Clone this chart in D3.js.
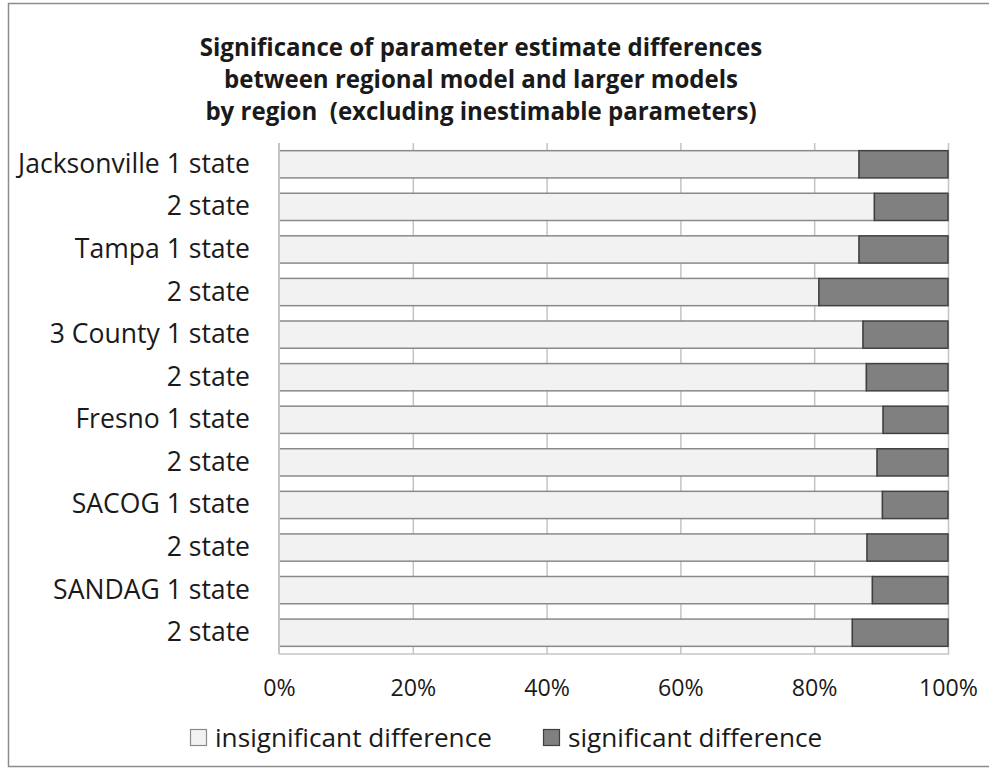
<!DOCTYPE html>
<html>
<head>
<meta charset="utf-8">
<script src="https://cdn.jsdelivr.net/npm/d3@7/dist/d3.min.js"></script>
<style>
  html, body { margin: 0; padding: 0; background: #fff; }
  svg { display: block; }
  text { font-family: "Open Sans", sans-serif; fill: #1a1a1a; white-space: pre; }
</style>
</head>
<body>
<svg id="chart" width="989" height="768"></svg>
<script>
// Rows, top to bottom
const categories = [
  "Jacksonville 1 state", "2 state",
  "Tampa 1 state", "2 state",
  "3 County 1 state", "2 state",
  "Fresno 1 state", "2 state",
  "SACOG 1 state", "2 state",
  "SANDAG 1 state", "2 state"
];
// Share of parameters whose difference is not significant
const insignificant = [0.867, 0.890, 0.867, 0.807, 0.873, 0.878, 0.903, 0.894, 0.902, 0.879, 0.887, 0.857];
// Share of parameters whose difference is significant
const significant = insignificant.map(v => 1 - v);
const seriesNames = ["insignificant difference", "significant difference"];
const xTicks = [0, 0.2, 0.4, 0.6, 0.8, 1.0];
const titleLines = [
  "Significance of parameter estimate differences",
  "between regional model and larger models",
  "by region  (excluding inestimable parameters)"
];

const fills = ["#f2f2f2", "#808080"];
const strokes = ["#8a8a8a", "#404040"];

const svg = d3.select("#chart");

// Pick a font size so that `str` renders `width` px wide.
function fitSize(str, width, weight) {
  const t = svg.append("text").attr("font-size", 100)
    .attr("font-weight", weight || "normal").text(str);
  const w = t.node().getComputedTextLength();
  t.remove();
  return 100 * width / w;
}
const labelSize = fitSize("Jacksonville 1 state", 232);
const tickSize = fitSize("100%", 59);
const legendSize = fitSize("insignificant difference", 277);
const titleSize = fitSize(titleLines[0], 563, "bold");

// outer frame
svg.append("rect")
  .attr("x", 8.5).attr("y", 3.5).attr("width", 990).attr("height", 763)
  .attr("fill", "none").attr("stroke", "#8c8c8c").attr("stroke-width", 1.5);

const plot = { left: 279, right: 948, top: 143, bottom: 654 };

const x = d3.scaleLinear().domain([0, 1]).range([plot.left, plot.right]);
const y = d3.scaleBand().domain(d3.range(categories.length))
  .range([plot.top, plot.bottom]).paddingInner(0.36).paddingOuter(0.18);

// vertical gridlines
svg.append("g").selectAll("line").data(xTicks.slice(1)).join("line")
  .attr("x1", d => x(d) + 0.5).attr("x2", d => x(d) + 0.5)
  .attr("y1", plot.top).attr("y2", plot.bottom)
  .attr("stroke", "#c4c4c4").attr("stroke-width", 1.5);

// stacked bars
const rows = categories.map((c, i) => ({ i, vals: [insignificant[i], significant[i]] }));
const stack = d3.stack().keys([0, 1]).value((d, k) => d.vals[k]);
const layers = stack(rows);

svg.append("g").selectAll("g").data(layers).join("g")
  .attr("fill", (d, k) => fills[k])
  .attr("stroke", (d, k) => strokes[k])
  .attr("stroke-width", 1.5)
  .selectAll("rect").data(d => d).join("rect")
  .attr("x", d => x(d[0]))
  .attr("width", d => x(d[1]) - x(d[0]))
  .attr("y", d => y(d.data.i))
  .attr("height", y.bandwidth());

// axis lines
svg.append("line")
  .attr("x1", plot.left).attr("x2", plot.left)
  .attr("y1", plot.top).attr("y2", plot.bottom)
  .attr("stroke", "#c4c4c4").attr("stroke-width", 2);
svg.append("line")
  .attr("x1", plot.left).attr("x2", plot.right + 1)
  .attr("y1", plot.bottom).attr("y2", plot.bottom)
  .attr("stroke", "#c4c4c4").attr("stroke-width", 1.5);

// category labels
const yAxis = d3.axisLeft(y).tickSize(0).tickPadding(29).tickFormat(i => categories[i]);
const gy = svg.append("g").attr("transform", `translate(${plot.left},0)`).call(yAxis);
gy.select(".domain").remove();
gy.selectAll("text").attr("font-size", labelSize)
  .style("font-family", "'Open Sans', sans-serif").attr("fill", "#1a1a1a");

// percentage labels
const xAxis = d3.axisBottom(x).tickValues(xTicks).tickSize(0).tickPadding(26).tickFormat(d3.format(".0%"));
const gx = svg.append("g").attr("transform", `translate(0,${plot.bottom})`).call(xAxis);
gx.select(".domain").remove();
gx.selectAll("text").attr("font-size", tickSize)
  .style("font-family", "'Open Sans', sans-serif").attr("fill", "#1a1a1a");

// title
svg.append("g").selectAll("text").data(titleLines).join("text")
  .attr("x", 481).attr("y", (d, i) => 56 + i * 32)
  .attr("text-anchor", "middle")
  .attr("font-size", titleSize).attr("font-weight", "bold")
  .text(d => d);

// legend
const legendItems = [{ x: 190, k: 0 }, { x: 543, k: 1 }];
const lg = svg.append("g").selectAll("g").data(legendItems).join("g")
  .attr("transform", d => `translate(${d.x},729)`);
lg.append("rect").attr("x", 0.5).attr("y", 0.5).attr("width", 16).attr("height", 16)
  .attr("fill", d => fills[d.k]).attr("stroke", d => strokes[d.k]).attr("stroke-width", 1.2);
lg.append("text").attr("x", 25).attr("y", 8.5).attr("dy", "0.35em")
  .attr("font-size", legendSize).text(d => seriesNames[d.k]);
</script>
</body>
</html>
